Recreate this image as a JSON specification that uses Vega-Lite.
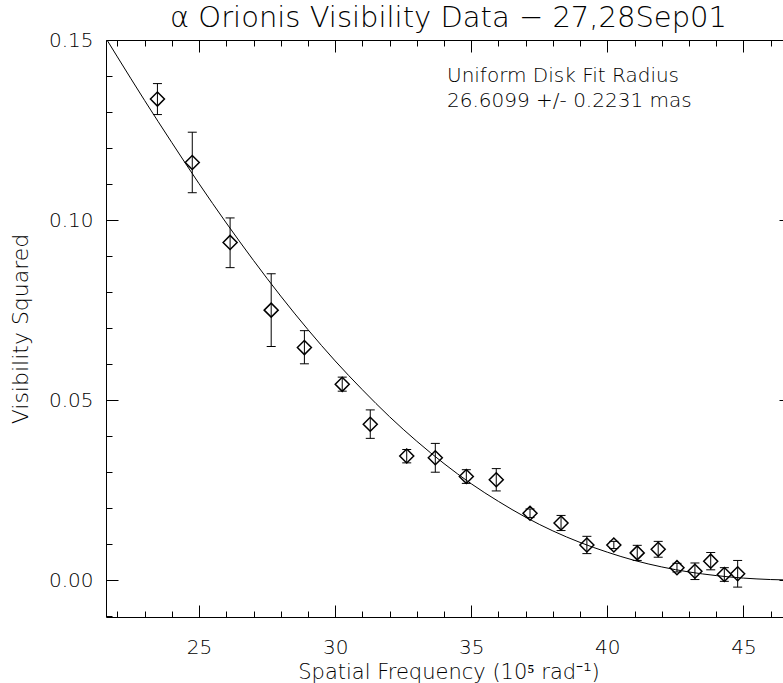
{
  "$schema": "https://vega.github.io/schema/vega-lite/v6.json",
  "width": 685,
  "height": 577,
  "autosize": {"type": "none"},
  "padding": {"left": 106, "top": 40, "right": 0, "bottom": 66},
  "background": "white",
  "title": {"text": "α Orionis Visibility Data − 27,28Sep01", "font": "DejaVu Sans", "fontWeight": 200, "fontSize": 29, "color": "black", "anchor": "middle", "offset": -3},
  "config": {
    "view": {"stroke": "black", "strokeWidth": 1},
    "axis": {"domain": false, "grid": false, "tickColor": "black", "tickWidth": 1, "labelColor": "black", "titleColor": "black", "labelFont": "DejaVu Sans", "titleFont": "DejaVu Sans", "labelFontSize": 20, "titleFontSize": 22, "labelFontWeight": 200, "titleFontWeight": 200}
  },
  "datasets": {
    "obs": [
      {"u": 23.47, "v": 0.1336, "lo": 0.1293, "hi": 0.1379},
      {"u": 24.75, "v": 0.1160, "lo": 0.1076, "hi": 0.1244},
      {"u": 26.14, "v": 0.0938, "lo": 0.0868, "hi": 0.1006},
      {"u": 27.65, "v": 0.0750, "lo": 0.0649, "hi": 0.0851},
      {"u": 28.87, "v": 0.0646, "lo": 0.0601, "hi": 0.0693},
      {"u": 30.26, "v": 0.0544, "lo": 0.0525, "hi": 0.0564},
      {"u": 31.29, "v": 0.0433, "lo": 0.0394, "hi": 0.0473},
      {"u": 32.63, "v": 0.0345, "lo": 0.0326, "hi": 0.0363},
      {"u": 33.68, "v": 0.0340, "lo": 0.0300, "hi": 0.0380},
      {"u": 34.82, "v": 0.0288, "lo": 0.0269, "hi": 0.0307},
      {"u": 35.92, "v": 0.0279, "lo": 0.0248, "hi": 0.0310},
      {"u": 37.16, "v": 0.0186, "lo": 0.0174, "hi": 0.0198},
      {"u": 38.30, "v": 0.0159, "lo": 0.0138, "hi": 0.0180},
      {"u": 39.25, "v": 0.0098, "lo": 0.0074, "hi": 0.0122},
      {"u": 40.24, "v": 0.0098, "lo": 0.0088, "hi": 0.0108},
      {"u": 41.10, "v": 0.0076, "lo": 0.0055, "hi": 0.0097},
      {"u": 41.87, "v": 0.0086, "lo": 0.0064, "hi": 0.0108},
      {"u": 42.56, "v": 0.0035, "lo": 0.0023, "hi": 0.0047},
      {"u": 43.22, "v": 0.0025, "lo": 0.0002, "hi": 0.0048},
      {"u": 43.80, "v": 0.0053, "lo": 0.0029, "hi": 0.0077},
      {"u": 44.30, "v": 0.0016, "lo": -0.0003, "hi": 0.0035},
      {"u": 44.79, "v": 0.0018, "lo": -0.0019, "hi": 0.0055}
    ],
    "fit": [
      {"u": 21.6, "v": 0.1502},
      {"u": 22, "v": 0.1453},
      {"u": 23, "v": 0.1332},
      {"u": 24, "v": 0.1215},
      {"u": 25, "v": 0.1101},
      {"u": 26, "v": 0.0992},
      {"u": 27, "v": 0.0888},
      {"u": 28, "v": 0.0789},
      {"u": 29, "v": 0.0696},
      {"u": 30, "v": 0.0609},
      {"u": 31, "v": 0.0529},
      {"u": 32, "v": 0.0454},
      {"u": 33, "v": 0.0386},
      {"u": 34, "v": 0.0324},
      {"u": 35, "v": 0.0268},
      {"u": 36, "v": 0.0219},
      {"u": 37, "v": 0.0175},
      {"u": 38, "v": 0.0137},
      {"u": 39, "v": 0.0105},
      {"u": 40, "v": 0.0078},
      {"u": 41, "v": 0.0055},
      {"u": 42, "v": 0.0037},
      {"u": 43, "v": 0.0023},
      {"u": 44, "v": 0.0013},
      {"u": 45, "v": 0.0006},
      {"u": 46, "v": 0.0002},
      {"u": 47, "v": 0.0000}
    ],
    "note": [
      {"text": ["Uniform Disk Fit Radius", "26.6099 +/- 0.2231 mas"]}
    ]
  },
  "layer": [
    {
      "data": {"name": "fit"},
      "mark": {"type": "line", "color": "black", "strokeWidth": 1, "interpolate": "monotone", "clip": true},
      "encoding": {
        "x": {"field": "u", "type": "quantitative", "scale": {"domain": [21.58, 46.75], "nice": false, "zero": false},
          "axis": {"orient": "bottom", "values": [25, 30, 35, 40, 45], "tickSize": -12, "labelPadding": 32, "title": "Spatial Frequency (10⁵ rad⁻¹)", "titlePadding": 4, "titleFontSize": 21}},
        "y": {"field": "v", "type": "quantitative", "scale": {"domain": [-0.0102, 0.15], "nice": false, "zero": false},
          "axis": {"orient": "left", "values": [0, 0.05, 0.1, 0.15], "format": ".2f", "tickSize": -12, "labelPadding": 25, "title": "Visibility Squared", "titlePadding": 16}}
      }
    },
    {
      "data": {"name": "obs"},
      "mark": {"type": "rule", "color": "black", "strokeWidth": 1},
      "encoding": {
        "x": {"field": "u", "type": "quantitative", "scale": {"domain": [21.58, 46.75], "nice": false, "zero": false},
          "axis": {"orient": "bottom", "values": [22, 23, 24, 25, 26, 27, 28, 29, 30, 31, 32, 33, 34, 35, 36, 37, 38, 39, 40, 41, 42, 43, 44, 45, 46], "tickSize": -6, "labels": false, "title": null}},
        "y": {"field": "lo", "type": "quantitative", "scale": {"domain": [-0.0102, 0.15], "nice": false, "zero": false},
          "axis": {"orient": "left", "values": [-0.01, 0.01, 0.02, 0.03, 0.04, 0.06, 0.07, 0.08, 0.09, 0.11, 0.12, 0.13, 0.14], "tickSize": -6, "labels": false, "title": null}},
        "y2": {"field": "hi"}
      }
    },
    {
      "data": {"name": "obs"},
      "mark": {"type": "tick", "orient": "horizontal", "size": 9, "thickness": 1, "color": "black", "opacity": 1},
      "encoding": {
        "x": {"field": "u", "type": "quantitative", "scale": {"domain": [21.58, 46.75], "nice": false, "zero": false},
          "axis": {"orient": "top", "values": [25, 30, 35, 40, 45], "tickSize": -12, "labels": false, "title": null}},
        "y": {"field": "lo", "type": "quantitative", "scale": {"domain": [-0.0102, 0.15], "nice": false, "zero": false},
          "axis": {"orient": "right", "values": [0, 0.05, 0.1, 0.15], "tickSize": -12, "labels": false, "title": null}}
      }
    },
    {
      "data": {"name": "obs"},
      "mark": {"type": "tick", "orient": "horizontal", "size": 9, "thickness": 1, "color": "black", "opacity": 1},
      "encoding": {
        "x": {"field": "u", "type": "quantitative", "scale": {"domain": [21.58, 46.75], "nice": false, "zero": false},
          "axis": {"orient": "top", "values": [22, 23, 24, 26, 27, 28, 29, 31, 32, 33, 34, 36, 37, 38, 39, 41, 42, 43, 44, 46], "tickSize": -6, "labels": false, "title": null}},
        "y": {"field": "hi", "type": "quantitative", "scale": {"domain": [-0.0102, 0.15], "nice": false, "zero": false},
          "axis": {"orient": "right", "values": [-0.01, 0.01, 0.02, 0.03, 0.04, 0.06, 0.07, 0.08, 0.09, 0.11, 0.12, 0.13, 0.14], "tickSize": -6, "labels": false, "title": null}}
      }
    },
    {
      "data": {"name": "obs"},
      "mark": {"type": "point", "shape": "diamond", "size": 196, "filled": false, "stroke": "black", "strokeWidth": 1.5, "opacity": 1},
      "encoding": {
        "x": {"field": "u", "type": "quantitative", "axis": null},
        "y": {"field": "v", "type": "quantitative", "axis": null}
      }
    },
    {
      "data": {"name": "note"},
      "mark": {"type": "text", "align": "left", "baseline": "top", "lineHeight": 25, "font": "DejaVu Sans", "fontWeight": 200, "fontSize": 20, "color": "black"},
      "encoding": {
        "text": {"field": "text"},
        "x": {"datum": 34.11, "type": "quantitative", "axis": null},
        "y": {"datum": 0.1428, "type": "quantitative", "axis": null}
      }
    }
  ],
  "resolve": {"axis": {"x": "independent", "y": "independent"}}
}
